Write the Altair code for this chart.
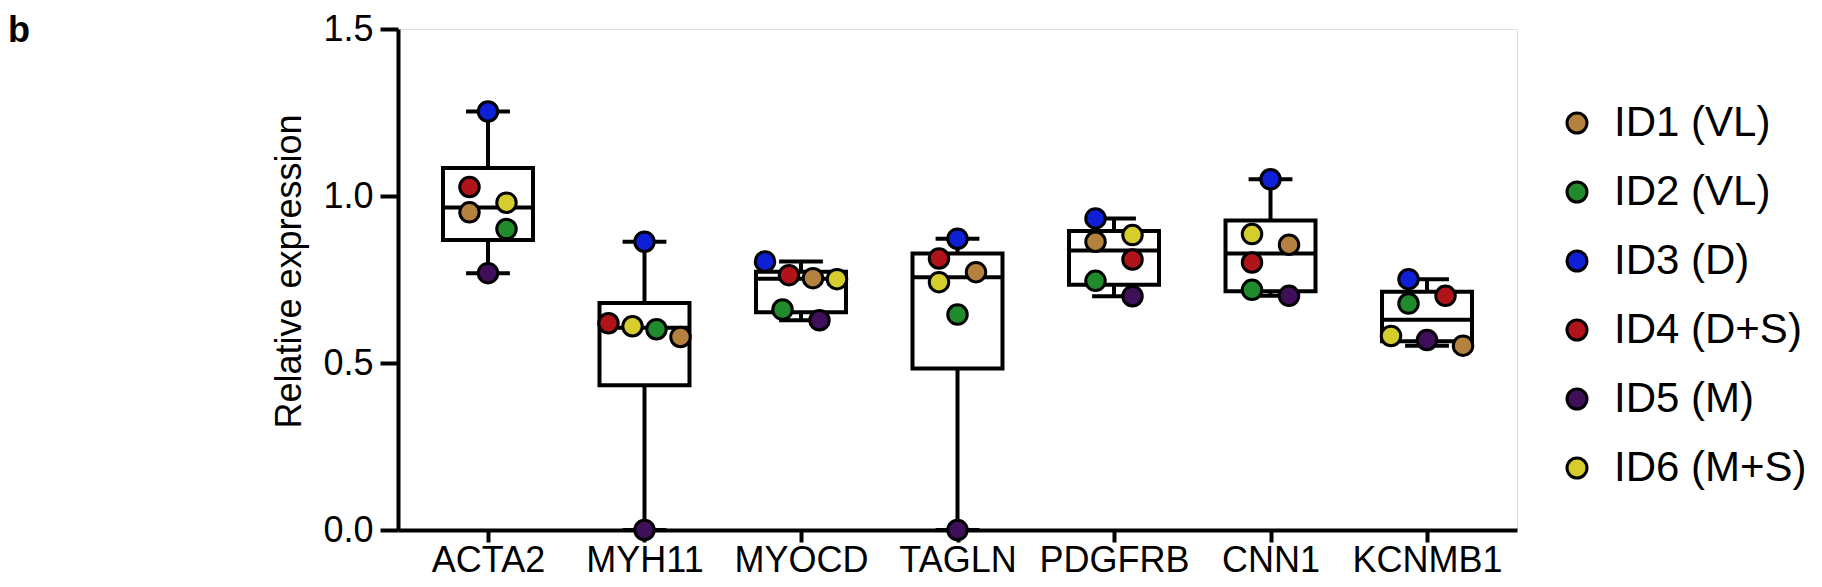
import altair as alt
import pandas as pd
import numpy as np

# ---------------- data ----------------
genes = ["ACTA2", "MYH11", "MYOCD", "TAGLN", "PDGFRB", "CNN1", "KCNMB1"]
donors = ["ID1 (VL)", "ID2 (VL)", "ID3 (D)", "ID4 (D+S)", "ID5 (M)", "ID6 (M+S)"]
donor_colors = ["#B5813F", "#1F8B2C", "#0F1FD6", "#B0141A", "#3F0F5A", "#D4CD2C"]

id1 = [0.951, 0.578, 0.754, 0.772, 0.863, 0.854, 0.552]
id2 = [0.901, 0.601, 0.660, 0.645, 0.746, 0.719, 0.678]
id3 = [1.253, 0.863, 0.804, 0.872, 0.933, 1.050, 0.751]
id4 = [1.027, 0.619, 0.763, 0.813, 0.810, 0.801, 0.701]
id5 = [0.769, 0.000, 0.628, 0.000, 0.700, 0.701, 0.569]
id6 = [0.980, 0.610, 0.751, 0.742, 0.883, 0.886, 0.581]
series = [id1, id2, id3, id4, id5, id6]

y_ticks = [0.0, 0.5, 1.0, 1.5]

# ---------------- layout constants ----------------
W, H = 1119, 501
X_DOM = [-0.575, 6.575]
STEP = W / (X_DOM[1] - X_DOM[0])   # px per category
PPU = H / 1.5                       # px per y unit
DOT = 23
ALT_OFF, SPAN, GAP = 18.5, 72, 19


def swarm_offsets(vals):
    """Prism-like column scatter (px offsets): close neighbours alternate sides;
    very tight clusters are laid out as a centred row."""
    ys = [v * PPU for v in vals]
    order = sorted(range(len(vals)), key=lambda k: -vals[k])
    clusters = []
    for k in order:
        if clusters and ys[clusters[-1][-1]] - ys[k] <= GAP:
            clusters[-1].append(k)
        else:
            clusters.append([k])
    off = [0.0] * len(vals)
    for c in clusters:
        n = len(c)
        if n == 1:
            continue
        alt_off = [(-ALT_OFF if j % 2 == 0 else ALT_OFF) for j in range(n)]
        clash = any(
            abs(ys[c[j]] - ys[c[j + 2]]) < DOT for j in range(n - 2)
        )
        if clash:
            sp = min(2 * ALT_OFF, SPAN / (n - 1))
            alt_off = [(j - (n - 1) / 2) * sp for j in range(n)]
        for k, o in zip(c, alt_off):
            off[k] = o
    return off


rows = []
for gi, g in enumerate(genes):
    vals = [s[gi] for s in series]
    offs = swarm_offsets(vals)
    for d, v, o in zip(donors, vals, offs):
        rows.append(dict(gene=g, gi=gi, donor=d, value=v, xpos=gi + o / STEP))
pts = pd.DataFrame(rows)

stat_rows = []
for gi, g in enumerate(genes):
    v = np.array([s[gi] for s in series])
    stat_rows.append(dict(
        gi=gi, gene=g,
        lo=v.min(), hi=v.max(),
        q1=np.percentile(v, 25, method="weibull"),
        med=np.percentile(v, 50, method="weibull"),
        q3=np.percentile(v, 75, method="weibull"),
    ))
stats = pd.DataFrame(stat_rows)

FONT = "Liberation Sans"
xscale = alt.Scale(domain=X_DOM, nice=False, zero=False)
yscale = alt.Scale(domain=[0, 1.5], nice=False, zero=False)

label_expr = "[" + ",".join("'%s'" % g for g in genes) + "][datum.value]"

x_axis = alt.Axis(
    values=list(range(len(genes))), labelExpr=label_expr, title=None,
    grid=False, domainColor="black", domainWidth=4, tickColor="black",
    tickWidth=4, tickSize=12, labelFont=FONT, labelFontSize=36,
    labelColor="black", labelPadding=1, labelAngle=0,
)
y_axis = alt.Axis(
    values=y_ticks, format=".1f", title="Relative expression",
    grid=False, domainColor="black", domainWidth=4, tickColor="black",
    tickWidth=4, tickSize=18, labelFont=FONT, labelFontSize=36,
    labelColor="black", labelPadding=7, titleFont=FONT, titleFontSize=36,
    titleFontWeight="normal", titleColor="black", titleX=-109, titleY=242,
    titleBaseline="middle", titleAlign="center", titleAngle=270,
)

base = alt.Chart(stats)

whisk_lo = base.mark_rule(color="black", strokeWidth=4).encode(
    x=alt.X("gi:Q", scale=xscale, axis=x_axis),
    y=alt.Y("lo:Q", scale=yscale, axis=y_axis),
    y2="q1:Q",
)
whisk_hi = base.mark_rule(color="black", strokeWidth=4).encode(
    x=alt.X("gi:Q", scale=xscale), y=alt.Y("q3:Q", scale=yscale), y2="hi:Q"
)
box = base.transform_calculate(
    x0="datum.gi - 0.2875", x1="datum.gi + 0.2875"
).mark_rect(fill="white", stroke="black", strokeWidth=4).encode(
    x=alt.X("x0:Q", scale=xscale), x2="x1:Q",
    y=alt.Y("q1:Q", scale=yscale), y2="q3:Q",
)
median = base.transform_calculate(
    x0="datum.gi - 0.2875", x1="datum.gi + 0.2875"
).mark_rule(color="black", strokeWidth=4).encode(
    x=alt.X("x0:Q", scale=xscale), x2="x1:Q", y=alt.Y("med:Q", scale=yscale)
)
cap_lo = base.transform_calculate(
    x0="datum.gi - 0.14", x1="datum.gi + 0.14"
).mark_rule(color="black", strokeWidth=4).encode(
    x=alt.X("x0:Q", scale=xscale), x2="x1:Q", y=alt.Y("lo:Q", scale=yscale)
)
cap_hi = base.transform_calculate(
    x0="datum.gi - 0.14", x1="datum.gi + 0.14"
).mark_rule(color="black", strokeWidth=4).encode(
    x=alt.X("x0:Q", scale=xscale), x2="x1:Q", y=alt.Y("hi:Q", scale=yscale)
)

points = alt.Chart(pts).mark_point(
    shape="circle", size=380, filled=True, stroke="black", strokeWidth=3, opacity=1
).encode(
    x=alt.X("xpos:Q", scale=xscale),
    y=alt.Y("value:Q", scale=yscale),
    fill=alt.Fill(
        "donor:N",
        scale=alt.Scale(domain=donors, range=donor_colors),
        legend=alt.Legend(
            title=None, orient="none", legendX=1158, legendY=73, padding=0,
            symbolType="circle", symbolSize=400, symbolStrokeColor="black",
            symbolStrokeWidth=3, symbolOpacity=1, labelFont=FONT,
            labelFontSize=42, labelColor="black", labelOffset=16,
            rowPadding=27, labelLimit=400,
        ),
    ),
)

panel_label = alt.Chart(pd.DataFrame({"t": ["b"]})).mark_text(
    font=FONT, fontSize=36, fontWeight="bold", align="left", baseline="alphabetic",
    color="black",
).encode(text="t:N", x=alt.value(-390), y=alt.value(13))

chart = alt.layer(
    whisk_lo, whisk_hi, box, median, cap_lo, cap_hi, points, panel_label
).properties(
    width=W, height=H,
    autosize=alt.AutoSizeParams(type="none"),
    padding={"left": 390, "top": 21, "right": 297, "bottom": 49},
).configure_view(strokeWidth=0).configure(background="white")

chart.save("out.html", embed_options={"renderer": "svg", "actions": False})
